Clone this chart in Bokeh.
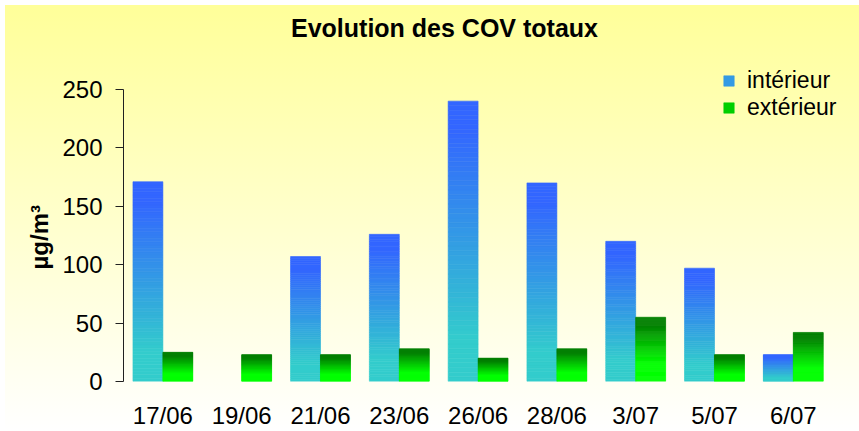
from bokeh.plotting import figure
from bokeh.models import (ColumnDataSource, Range1d, Legend, LegendItem, FixedTicker,
                          Label, Title)
from bokeh.transform import dodge
from bokeh.embed import file_html
from bokeh.resources import INLINE

# ---- data ----
categories = ["17/06", "19/06", "21/06", "23/06", "26/06", "28/06", "3/07", "5/07", "6/07"]
interieur = [171, None, 107, 126, 240, 170, 120, 97, 23]
exterieur = [25, 23, 23, 28, 20, 28, 55, 23, 42]
series_names = ["intérieur", "extérieur"]
y_ticks = [0, 50, 100, 150, 200, 250]
title_text = "Evolution des COV totaux"
y_label = "µg/m³"

FONT = "Liberation Sans"
N_SLICES = 60
positions = list(range(len(categories)))


def hex_to_rgb(h):
    h = h.lstrip("#")
    return tuple(int(h[i:i + 2], 16) for i in (0, 2, 4))


def blend(c_top, c_bot, t0, t1, t):
    a, b = hex_to_rgb(c_top), hex_to_rgb(c_bot)
    f = 0.0 if t <= t0 else (1.0 if t >= t1 else (t - t0) / (t1 - t0))
    r = [round(a[i] + (b[i] - a[i]) * f) for i in range(3)]
    return "#%02x%02x%02x" % tuple(r)


def gradient_slices(values, c_top, c_bot, t0, t1, n=N_SLICES):
    xs, bots, tops, cols = [], [], [], []
    for x, v in zip(positions, values):
        if v is None or v <= 0:
            continue
        for k in range(n):
            t = 1.0 - (k + 0.5) / n  # 0 at top of bar, 1 at bottom
            xs.append(x)
            bots.append(v * k / n)
            tops.append(v * (k + 1) / n)
            cols.append(blend(c_top, c_bot, t0, t1, t))
    return ColumnDataSource(dict(x=xs, bottom=bots, top=tops, color=cols))


src_in = gradient_slices(interieur, "#3366ff", "#33cccc", 0.10, 0.85)
src_ex = gradient_slices(exterieur, "#008000", "#00ff00", 0.12, 0.72)

p = figure(
    x_range=Range1d(-0.5, 8.815),
    y_range=Range1d(0, 321),
    width=859, height=431,
    title=None,
    output_backend="svg", toolbar_location=None,
    min_border_left=123, min_border_right=2, min_border_top=6, min_border_bottom=50,
)
p.background_fill_color = None
p.border_fill_color = None
p.outline_line_color = None
p.styles = {
    "background": "linear-gradient(to right, #ffffff 5px, rgba(255,255,255,0) 5px), "
                  "linear-gradient(to bottom, #ffffff 5px, #ffff99 5px, #ffffff 100%)"
}

r_in = p.vbar(x=dodge("x", -0.19), bottom="bottom", top="top", width=0.38,
              source=src_in, fill_color="color", line_color="color", line_width=0.6)
r_ex = p.vbar(x=dodge("x", 0.19), bottom="bottom", top="top", width=0.38,
              source=src_ex, fill_color="color", line_color="color", line_width=0.6)

# chart title (inside the tall frame, above the data area)
p.add_layout(Label(
    x=444, y=27, x_units="canvas", y_units="canvas",
    text=title_text, text_font=FONT, text_font_size="25px", text_font_style="bold",
    text_color="black", text_align="center", text_baseline="middle",
))

# grids
p.xgrid.grid_line_color = None
p.ygrid.grid_line_color = None

# y axis
ya = p.yaxis[0]
ya.ticker = FixedTicker(ticks=y_ticks)
ya.bounds = (y_ticks[0], y_ticks[-1])
ya.minor_tick_line_color = None
ya.major_tick_out = 8
ya.major_tick_in = 0
ya.major_label_standoff = 13
ya.major_label_text_font = FONT
ya.major_label_text_font_size = "24px"
ya.major_label_text_color = "black"
ya.axis_line_color = "#202020"
ya.major_tick_line_color = "#202020"

# y axis title, placed in the left panel
p.add_layout(Title(
    text=y_label, align="left", offset=112, standoff=13,
    text_font=FONT, text_font_size="24px", text_font_style="bold", text_color="black",
), "left")

# x axis
xa = p.xaxis[0]
xa.ticker = FixedTicker(ticks=positions)
xa.major_label_overrides = {i: c for i, c in zip(positions, categories)}
xa.axis_line_color = None
xa.major_tick_line_color = None
xa.minor_tick_line_color = None
xa.major_tick_out = 0
xa.major_tick_in = 0
xa.major_label_standoff = 20
xa.major_label_text_font = FONT
xa.major_label_text_font_size = "24px"
xa.major_label_text_color = "black"

# legend
mid = N_SLICES // 2
legend = Legend(
    items=[LegendItem(label=series_names[0], renderers=[r_in], index=mid),
           LegendItem(label=series_names[1], renderers=[r_ex], index=mid)],
    location=(599, 260),
    orientation="vertical",
    border_line_color=None,
    background_fill_alpha=0,
    glyph_width=13, glyph_height=13,
    label_standoff=12,
    label_text_font=FONT,
    label_text_font_size="23px",
    label_text_color="black",
    padding=0, margin=0, spacing=-1,
)
p.add_layout(legend, "center")

open("out.html", "w").write(file_html(p, INLINE))
